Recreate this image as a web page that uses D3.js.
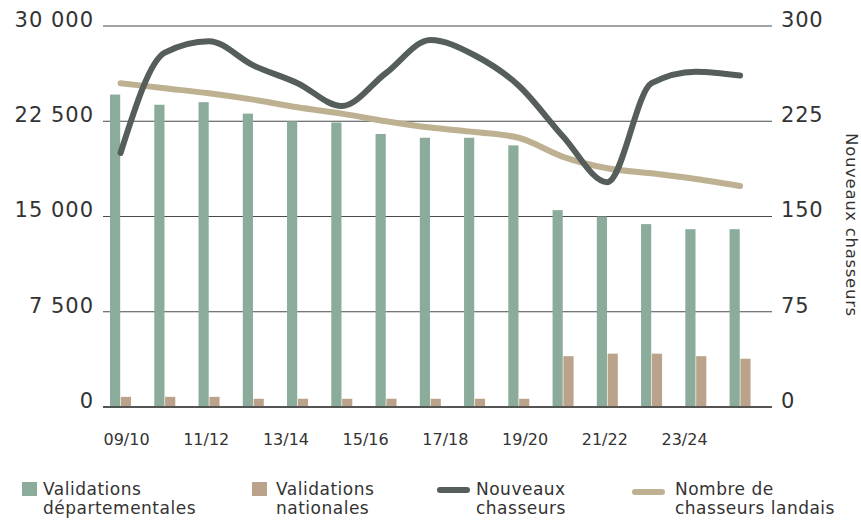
<!DOCTYPE html>
<html>
<head>
<meta charset="utf-8">
<script src="https://cdn.jsdelivr.net/npm/d3@7"></script>
<style>
  body { margin: 0; background: #fff; }
  svg text { font-family: "DejaVu Sans", sans-serif; fill: #333; }
</style>
</head>
<body>
<svg id="chart"></svg>
<script>
// seasons
const seasons = ['09/10','10/11','11/12','12/13','13/14','14/15','15/16','16/17','17/18','18/19','19/20','20/21','21/22','22/23','23/24'];
const seasonLabels = ['09/10','11/12','13/14','15/16','17/18','19/20','21/22','23/24'];

// series
const validationsDep = [24600, 23800, 24000, 23100, 22500, 22400, 21500, 21200, 21200, 20600, 15500, 15000, 14400, 14000, 14000];
const validationsNat = [800, 800, 800, 650, 650, 650, 650, 650, 650, 650, 4000, 4200, 4200, 4000, 3800];
const nouveauxChasseurs = [200, 279, 288, 269, 255, 237, 263, 289, 277, 253, 213, 177, 255, 264, 261];
const chasseursLandais = [25500, 25100, 24700, 24200, 23600, 23100, 22500, 22000, 21650, 21200, 19700, 18800, 18400, 17950, 17400];

// axes ticks
const leftTicks = [0, 7500, 15000, 22500, 30000];
const rightTicks = [0, 75, 150, 225, 300];

const legendLabels = [
  ['Validations', 'départementales'],
  ['Validations', 'nationales'],
  ['Nouveaux', 'chasseurs'],
  ['Nombre de', 'chasseurs landais']
];
const rightTitle = 'Nouveaux chasseurs';

const colors = { dep: '#8bab9b', nat: '#bba38b', newH: '#555e5a', total: '#bdb192' };

const fr = d3.formatLocale({ decimal: ',', thousands: ' ', grouping: [3], currency: ['', ' €'] });
const fmt = fr.format(',');

const drawChart = () => {
    const width = 861, height = 520;
    const plot = { left: 103, right: 772, top: 26, bottom: 407 };

    const svg = d3.select('#chart')
        .attr('width', width)
        .attr('height', height);

    const x = d3.scaleBand()
        .domain(seasons)
        .range([98.4, 762.2]);

    const xSub = d3.scaleBand()
        .domain(['dep', 'nat'])
        .range([-10.5, 10.5])
        .paddingInner(0.06);

    const xLabel = d3.scalePoint()
        .domain(seasonLabels)
        .range([126, 684]);

    const yLeft = d3.scaleLinear().domain([0, 30000]).range([plot.bottom, plot.top]);
    const yRight = d3.scaleLinear().domain([0, 300]).range([plot.bottom, plot.top]);

    // gridlines
    svg.append('g')
        .selectAll('line')
        .data(leftTicks)
        .enter()
        .append('line')
        .attr('x1', plot.left)
        .attr('x2', plot.right)
        .attr('y1', d => yLeft(d))
        .attr('y2', d => yLeft(d))
        .attr('stroke', '#4a4a4a')
        .attr('stroke-width', 1.2);

    // left axis
    const leftAxis = svg.append('g')
        .attr('transform', 'translate(94,0)')
        .call(d3.axisLeft(yLeft).tickValues(leftTicks).tickSize(0).tickPadding(0).tickFormat(fmt));
    leftAxis.select('.domain').remove();
    leftAxis.selectAll('text')
        .attr('dy', '0.02em')
        .style('font-size', '21px')
        .style('letter-spacing', '1px')
        .style('fill', '#333');

    // right axis
    const rightAxis = svg.append('g')
        .attr('transform', 'translate(781,0)')
        .call(d3.axisRight(yRight).tickValues(rightTicks).tickSize(0).tickPadding(0));
    rightAxis.select('.domain').remove();
    rightAxis.selectAll('text')
        .attr('dy', '0.02em')
        .style('font-size', '21px')
        .style('letter-spacing', '0.8px')
        .style('fill', '#333');

    svg.append('text')
        .attr('transform', 'translate(846,225) rotate(90)')
        .attr('text-anchor', 'middle')
        .style('font-size', '16.5px')
        .style('letter-spacing', '0.7px')
        .text(rightTitle);

    // bottom labels
    const bottomAxis = svg.append('g')
        .attr('transform', 'translate(0,445)')
        .call(d3.axisBottom(xLabel).tickSize(0).tickPadding(0));
    bottomAxis.select('.domain').remove();
    bottomAxis.selectAll('text')
        .attr('dy', 0)
        .attr('y', 0)
        .style('font-size', '16px')
        .style('fill', '#333');

    // bars
    const groups = svg.append('g')
        .selectAll('g')
        .data(seasons)
        .enter()
        .append('g')
        .attr('transform', d => 'translate(' + (x(d) + x.bandwidth() / 2) + ',0)');

    groups.append('rect')
        .attr('x', xSub('dep'))
        .attr('width', xSub.bandwidth())
        .attr('y', (d, i) => yLeft(validationsDep[i]))
        .attr('height', (d, i) => yLeft(0) - yLeft(validationsDep[i]))
        .attr('fill', colors.dep);

    groups.append('rect')
        .attr('x', xSub('nat'))
        .attr('width', xSub.bandwidth())
        .attr('y', (d, i) => yLeft(validationsNat[i]))
        .attr('height', (d, i) => yLeft(0) - yLeft(validationsNat[i]))
        .attr('fill', colors.nat);

    // zero line on top of bars
    svg.append('line')
        .attr('x1', plot.left)
        .attr('x2', plot.right)
        .attr('y1', yLeft(0))
        .attr('y2', yLeft(0))
        .attr('stroke', '#3a3a3a')
        .attr('stroke-width', 1.3);

    const cx = d => x(d) + x.bandwidth() / 2;

    const totalLine = d3.line()
        .x((d, i) => cx(seasons[i]))
        .y(d => yLeft(d))
        .curve(d3.curveMonotoneX);

    const newLine = d3.line()
        .x((d, i) => cx(seasons[i]))
        .y(d => yRight(d))
        .curve(d3.curveMonotoneX);

    svg.append('path')
        .attr('d', totalLine(chasseursLandais))
        .attr('fill', 'none')
        .attr('stroke', colors.total)
        .attr('stroke-width', 6)
        .attr('stroke-linecap', 'round')
        .attr('stroke-linejoin', 'round');

    svg.append('path')
        .attr('d', newLine(nouveauxChasseurs))
        .attr('fill', 'none')
        .attr('stroke', colors.newH)
        .attr('stroke-width', 6)
        .attr('stroke-linecap', 'round')
        .attr('stroke-linejoin', 'round');

    // legend
    const legendX = [22, 252, 437, 632];
    const legendTextX = [43, 276, 476, 675];
    const legend = svg.append('g')
        .selectAll('g')
        .data(legendLabels)
        .enter()
        .append('g');

    legend.each(function(d, i) {
        const g = d3.select(this);
        if (i < 2) {
            g.append('rect')
                .attr('x', legendX[i])
                .attr('y', 482)
                .attr('width', 15)
                .attr('height', 14)
                .attr('fill', i === 0 ? colors.dep : colors.nat);
        } else {
            g.append('line')
                .attr('x1', legendX[i] + 3)
                .attr('x2', legendX[i] + 30)
                .attr('y1', i === 2 ? 490 : 492)
                .attr('y2', i === 2 ? 490 : 492)
                .attr('stroke', i === 2 ? colors.newH : colors.total)
                .attr('stroke-width', 6)
                .attr('stroke-linecap', 'round');
        }
        const t = g.append('text')
            .attr('x', legendTextX[i])
            .attr('y', 495)
            .style('font-size', '17px')
            .style('letter-spacing', '0.5px');
        t.append('tspan').attr('x', legendTextX[i]).text(d[0]);
        t.append('tspan').attr('x', legendTextX[i]).attr('y', 514).text(d[1]);
    });
}

drawChart();
</script>
</body>
</html>
